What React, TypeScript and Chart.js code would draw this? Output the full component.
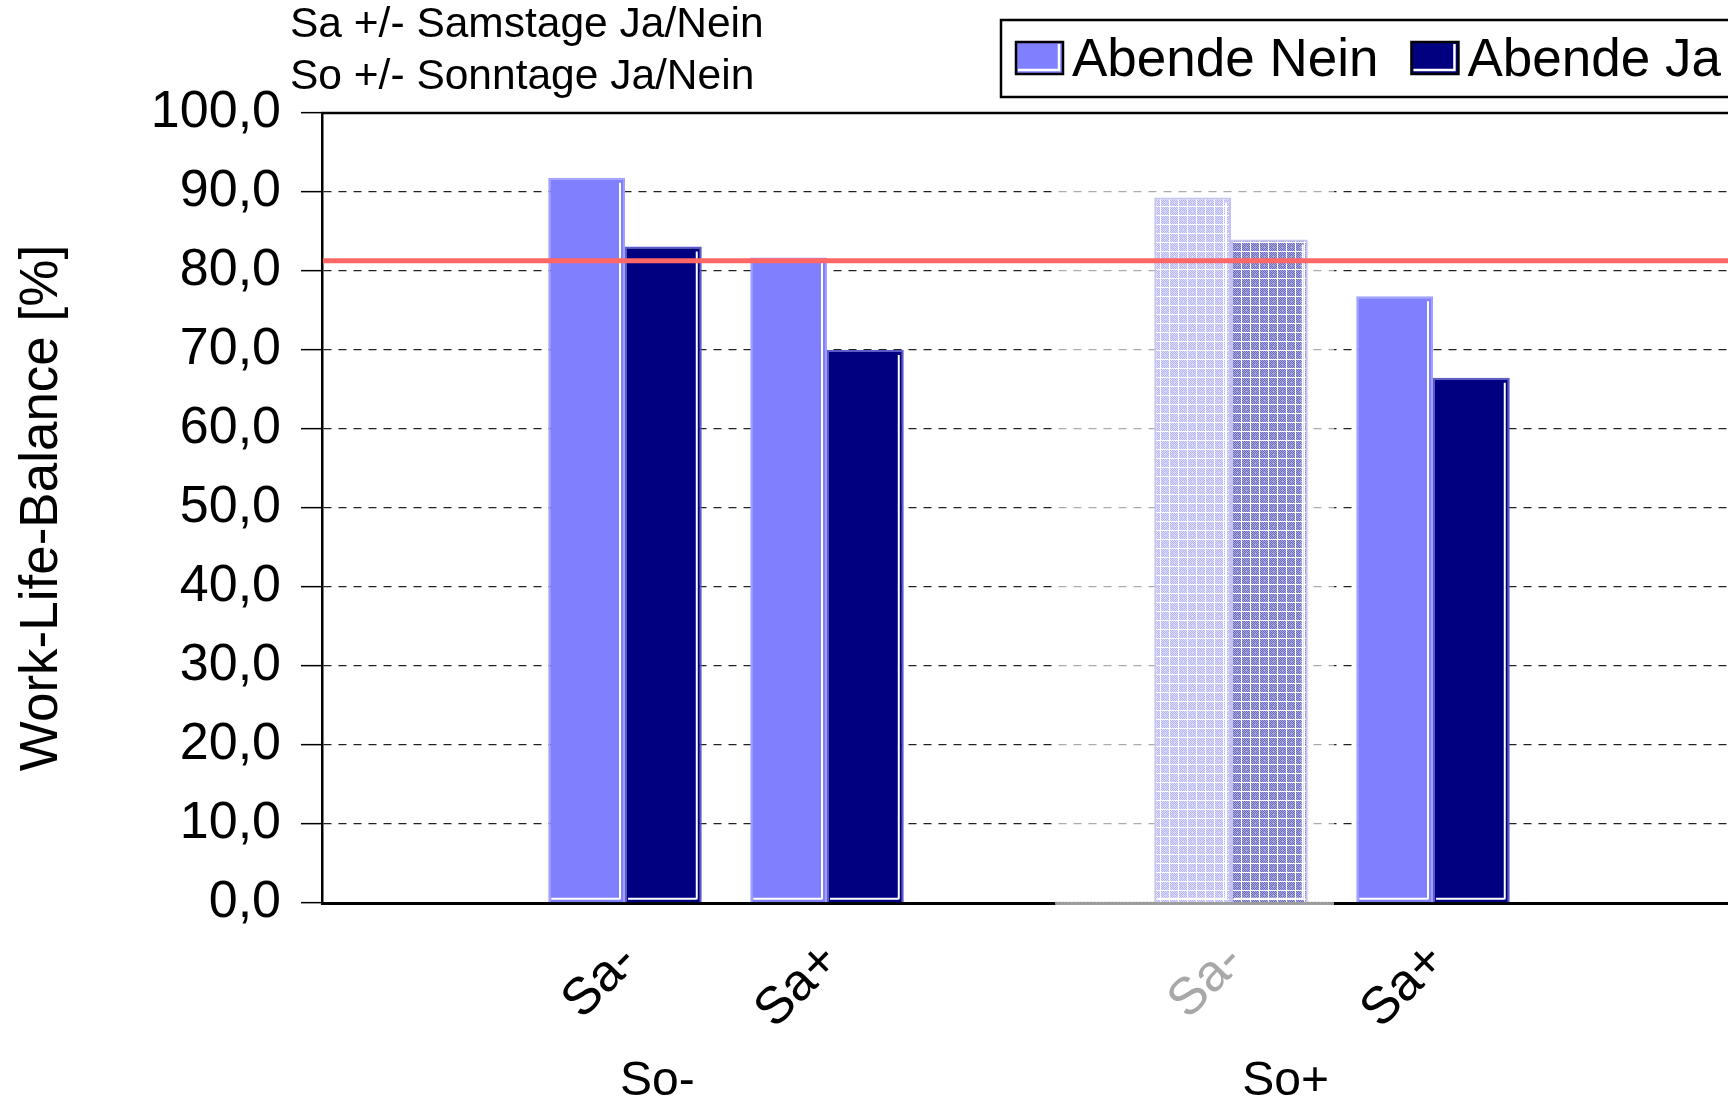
import React, { useEffect, useRef } from 'react';
import { Chart, registerables } from 'chart.js';

Chart.register(...registerables);

// ---- data ----
const categories = ['', 'Sa-', 'Sa+', '', 'Sa-', 'Sa+', ''];
const groupLabels = ['So-', 'So+'];
const seriesNames = ['Abende Nein', 'Abende Ja'];
const abendeNein = [null, 91.8, 81.7, null, 89.3, 76.8, null];
const abendeJa = [null, 83.1, 70.0, null, 84.0, 66.5, null];
const benchmark = 81.3;
const noteLines = ['Sa +/- Samstage Ja/Nein', 'So +/- Sonntage Ja/Nein'];
const yTitle = 'Work-Life-Balance [%]';

// ---- styling ----
const FONT = '"Liberation Sans", Arial, Helvetica, sans-serif';
const LIGHT = '#8080ff';
const DARK = '#000080';
const seriesColors = [LIGHT, DARK];
const seriesBorders = ['#a0a0ff', '#5a5ac8'];
const fadedIndex = 4; // category rendered in the muted (selected) style
const groupCenters = [1.16, 4.27]; // category coordinate of each group caption

function makePattern(base: string, dot: string): CanvasPattern | string {
  const c = document.createElement('canvas');
  c.width = 9;
  c.height = 9;
  const g = c.getContext('2d');
  if (!g) return base;
  g.fillStyle = base;
  g.fillRect(0, 0, 9, 9);
  g.fillStyle = dot;
  for (let y = 0; y < 8; y++) {
    for (let x = 0; x < 8; x++) {
      if ((x + y) % 2 === 0 && !(x === 4 && y === 4)) g.fillRect(x, y, 1, 1);
    }
  }
  g.fillStyle = '#ffffff';
  g.fillRect(8, 0, 1, 9);
  g.fillRect(0, 8, 9, 1);
  return g.createPattern(c, 'repeat') || base;
}

const decorations = {
  id: 'decorations',
  beforeDatasetsDraw(chart: any) {
    const { ctx, chartArea, scales } = chart;
    const xs = scales.x;
    const x0 = xs.getPixelForValue(fadedIndex - 0.87);
    const x1 = xs.getPixelForValue(fadedIndex + 0.51);
    ctx.save();
    ctx.fillStyle = 'rgba(255,255,255,0.62)';
    ctx.fillRect(x0, chartArea.top + 2, x1 - x0, chartArea.bottom - chartArea.top + 2);
    ctx.strokeStyle = '#9a9a9a';
    ctx.lineWidth = 2.5;
    ctx.setLineDash([2, 1.5]);
    ctx.beginPath();
    ctx.moveTo(x0, chartArea.bottom);
    ctx.lineTo(x1, chartArea.bottom);
    ctx.stroke();
    ctx.restore();
  },
  afterDatasetsDraw(chart: any) {
    const { ctx, chartArea, scales } = chart;
    ctx.save();
    // white inner edges of each bar
    chart.data.datasets.forEach((ds: any, di: number) => {
      const meta = chart.getDatasetMeta(di);
      meta.data.forEach((el: any, idx: number) => {
        if (ds.data[idx] == null || el == null || !isFinite(el.y) || !isFinite(el.base)) return;
        const left = el.x - el.width / 2;
        const right = el.x + el.width / 2;
        ctx.strokeStyle = '#ffffff';
        ctx.lineWidth = 2;
        ctx.beginPath();
        ctx.moveTo(right - 5, el.y + 5);
        ctx.lineTo(right - 5, el.base - 3);
        ctx.moveTo(left + 3, el.base - 3.5);
        ctx.lineTo(right - 5, el.base - 3.5);
        ctx.stroke();
      });
    });
    // benchmark line
    const yb = scales.y.getPixelForValue(benchmark);
    ctx.strokeStyle = '#ff6666';
    ctx.lineWidth = 5;
    ctx.beginPath();
    ctx.moveTo(chartArea.left + 1, yb);
    ctx.lineTo(chart.width, yb);
    ctx.stroke();
    // top frame line
    ctx.strokeStyle = '#000000';
    ctx.lineWidth = 2.5;
    ctx.beginPath();
    ctx.moveTo(chartArea.left - 1, chartArea.top);
    ctx.lineTo(chart.width, chartArea.top);
    ctx.stroke();
    ctx.restore();
  },
  afterDraw(chart: any) {
    const { ctx, chartArea, scales } = chart;
    const xs = scales.x;
    ctx.save();
    // category labels (rotated)
    ctx.font = `52px ${FONT}`;
    ctx.textAlign = 'right';
    ctx.textBaseline = 'middle';
    categories.forEach((lab, i) => {
      if (!lab) return;
      const px = xs.getPixelForValue(i);
      ctx.save();
      ctx.translate(px + 4, chartArea.bottom + 50);
      ctx.rotate(-Math.PI / 4);
      ctx.fillStyle = i === fadedIndex ? '#a8a8a8' : '#000000';
      ctx.fillText(lab, 0, 0);
      ctx.restore();
    });
    // group captions
    ctx.font = `48px ${FONT}`;
    ctx.textAlign = 'center';
    ctx.textBaseline = 'alphabetic';
    ctx.fillStyle = '#000000';
    groupLabels.forEach((g, i) => {
      ctx.fillText(g, xs.getPixelForValue(groupCenters[i]), chartArea.bottom + 192);
    });
    // notes
    ctx.font = `42.5px ${FONT}`;
    ctx.textAlign = 'left';
    noteLines.forEach((t, i) => ctx.fillText(t, 290, 37 + i * 52));
    // legend
    ctx.lineWidth = 2.5;
    ctx.strokeStyle = '#000000';
    ctx.fillStyle = '#ffffff';
    ctx.fillRect(1001, 20, 780, 77);
    ctx.strokeRect(1001, 20, 780, 77);
    ctx.font = `53px ${FONT}`;
    let cx = 1016;
    seriesNames.forEach((name, i) => {
      ctx.fillStyle = seriesColors[i];
      ctx.fillRect(cx, 42, 47, 32);
      ctx.strokeStyle = '#ffffff';
      ctx.lineWidth = 2.5;
      ctx.beginPath();
      ctx.moveTo(cx + 2, 70);
      ctx.lineTo(cx + 43, 70);
      ctx.lineTo(cx + 43, 44);
      ctx.stroke();
      ctx.strokeStyle = '#000000';
      ctx.lineWidth = 2.5;
      ctx.strokeRect(cx, 42, 47, 32);
      ctx.fillStyle = '#000000';
      ctx.fillText(name, cx + 56, 76);
      cx += 56 + ctx.measureText(name).width + 33;
    });
    ctx.restore();
  },
};

export default function App() {
  const ref = useRef<HTMLCanvasElement>(null);

  useEffect(() => {
    const canvas = ref.current;
    if (!canvas) return;
    const lightPattern = makePattern('#dcdcff', '#b4b4f2');
    const darkPattern = makePattern('#aaaadc', '#6a6abc');
    const patterns = [lightPattern, darkPattern];
    const values = [abendeNein, abendeJa];

    const chart = new Chart(canvas, {
      type: 'bar',
      data: {
        labels: categories,
        datasets: values.map((v, i) => ({
          label: seriesNames[i],
          data: v,
          backgroundColor: (c: any) => (c.dataIndex === fadedIndex ? patterns[i] : seriesColors[i]),
          borderColor: (c: any) => (c.dataIndex === fadedIndex ? '#c4c4ee' : seriesBorders[i]),
          borderWidth: 2,
          categoryPercentage: 0.76,
          barPercentage: 1,
        })),
      },
      options: {
        responsive: false,
        animation: false,
        devicePixelRatio: 1,
        events: [],
        layout: { padding: { left: 0, top: 113, right: 24, bottom: 0 } },
        plugins: {
          legend: { display: false },
          title: { display: false },
          tooltip: { enabled: false },
        },
        scales: {
          x: {
            type: 'category',
            offset: true,
            grid: { display: false, drawTicks: false },
            ticks: { display: false },
            border: { display: true, color: '#000000', width: 3 },
            afterFit: (s: any) => {
              s.height = 197;
            },
          },
          y: {
            min: 0,
            max: 100,
            ticks: {
              stepSize: 10,
              color: '#000000',
              padding: 20,
              font: { family: FONT, size: 52 },
              callback: (v: any) => Number(v).toFixed(1).replace('.', ','),
            },
            grid: {
              color: '#222222',
              lineWidth: 1.3,
              tickLength: 21,
              tickColor: '#000000',
              tickWidth: 1.5,
            },
            border: { display: true, color: '#000000', width: 2.5, dash: [8, 7] },
            title: {
              display: true,
              text: yTitle,
              color: '#000000',
              font: { family: FONT, size: 53 },
              padding: { top: 11, bottom: 0 },
            },
            afterFit: (s: any) => {
              s.width = 322;
            },
          },
        },
      },
      plugins: [decorations],
    } as any);

    return () => chart.destroy();
  }, []);

  return (
    <div
      style={{
        position: 'absolute',
        left: 0,
        top: 0,
        width: 1728,
        height: 1100,
        overflow: 'hidden',
        background: '#ffffff',
      }}
    >
      <canvas ref={ref} width={1760} height={1100} style={{ display: 'block', width: 1760, height: 1100 }} />
    </div>
  );
}
